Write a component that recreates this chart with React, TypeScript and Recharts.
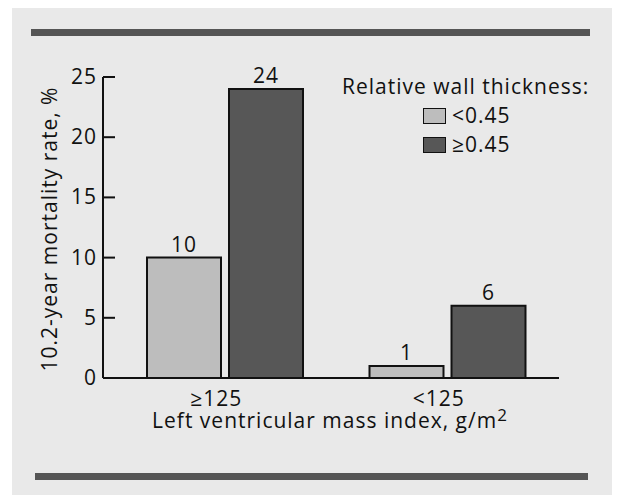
import { BarChart, Bar, XAxis, YAxis, LabelList, Label } from "recharts";

const categories = ["≥125", "<125"];
const thinWall = [10, 1];
const thickWall = [24, 6];
const yTicks = [0, 5, 10, 15, 20, 25];
const seriesNames = ["<0.45", "≥0.45"];

const data = categories.map((c, i) => ({ lvmi: c, thin: thinWall[i], thick: thickWall[i] }));

const FONT = "'Open Sans', sans-serif";
const FS = 21;
const LS = 1;
const INK = "#111";
const LIGHT = "#bdbdbd";
const DARK = "#575757";

const YTick = (props: any) => {
  const { x, y, payload } = props;
  return (
    <g>
      <line x1={x} x2={x + 12} y1={y} y2={y} stroke={INK} strokeWidth={2} />
      <text x={x - 6} y={y} dy={7} textAnchor="end" fontSize={FS} letterSpacing={LS} fontFamily={FONT} fill={INK}>
        {payload.value}
      </text>
    </g>
  );
};

const LegendBox = () => (
  <div style={{ fontFamily: FONT, fontSize: FS, letterSpacing: LS, color: INK, lineHeight: "29px" }}>
    <div>Relative wall thickness:</div>
    {seriesNames.map((n, i) => (
      <div key={n} style={{ display: "flex", alignItems: "center", paddingLeft: 81 }}>
        <span style={{ width: 21, height: 14, background: i === 0 ? LIGHT : DARK, border: `1.5px solid ${INK}`, marginRight: 6 }} />
        {n}
      </div>
    ))}
  </div>
);

export default function App() {
  return (
    <div style={{ position: "relative", margin: -8, width: 620, height: 503, background: "#fff", overflow: "hidden" }}>
      <div style={{ position: "absolute", left: 12, top: 8, width: 608, height: 492, background: "#e9e9e9" }} />
      <div style={{ position: "absolute", left: 31, top: 29, width: 559, height: 7, background: "#555" }} />
      <div style={{ position: "absolute", left: 35, top: 473, width: 553, height: 7, background: "#555" }} />
      <div style={{ position: "absolute", left: 0, top: 0 }}>
        <BarChart
          width={620}
          height={503}
          data={data}
          margin={{ top: 77, right: 61, bottom: 95, left: 53 }}
          barSize={74}
          barGap={8}
        >
          <XAxis
            dataKey="lvmi"
            axisLine={{ stroke: INK, strokeWidth: 2 }}
            tickLine={false}
            tickSize={0}
            tickMargin={13}
            padding={{ left: 11, right: 0 }}
            dx={-9}
            tick={{ fontSize: FS, fontFamily: FONT, fill: INK, letterSpacing: LS }}
            height={30}
          >
            <Label
              content={() => (
                <text x={330} y={428} textAnchor="middle" fontSize={FS} letterSpacing={LS} fontFamily={FONT} fill={INK}>
                  Left ventricular mass index, g/m
                  <tspan dy={-7} fontSize={17}>2</tspan>
                </text>
              )}
            />
          </XAxis>
          <YAxis
            width={50}
            domain={[0, 25]}
            ticks={yTicks}
            interval={0}
            axisLine={{ stroke: INK, strokeWidth: 2 }}
            tickLine={false}
            tickSize={0}
            tickMargin={0}
            tick={<YTick />}
          >
            <Label
              content={() => (
                <text
                  x={57}
                  y={229}
                  transform="rotate(-90 57 229)"
                  textAnchor="middle"
                  fontSize={FS}
                  letterSpacing={LS}
                  fontFamily={FONT}
                  fill={INK}
                >
                  10.2-year mortality rate, %
                </text>
              )}
            />
          </YAxis>
          <Bar dataKey="thin" name={seriesNames[0]} fill={LIGHT} stroke={INK} strokeWidth={2} isAnimationActive={false}>
            <LabelList dataKey="thin" position="top" offset={6} fontSize={FS} letterSpacing={LS} fontFamily={FONT} fill={INK} />
          </Bar>
          <Bar dataKey="thick" name={seriesNames[1]} fill={DARK} stroke={INK} strokeWidth={2} isAnimationActive={false}>
            <LabelList dataKey="thick" position="top" offset={6} fontSize={FS} letterSpacing={LS} fontFamily={FONT} fill={INK} />
          </Bar>
        </BarChart>
      </div>
      <div style={{ position: "absolute", left: 342, top: 72 }}>
        <LegendBox />
      </div>
    </div>
  );
}
